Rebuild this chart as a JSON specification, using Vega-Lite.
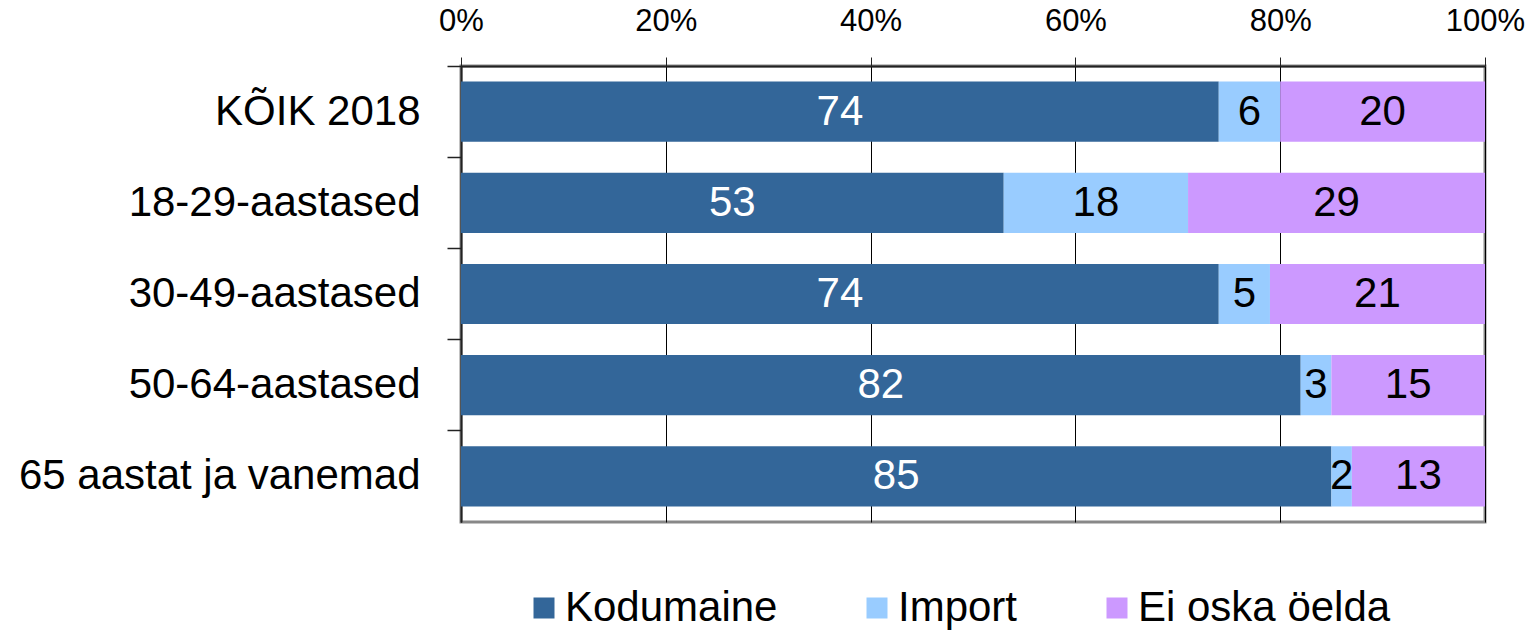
{
  "$schema": "https://vega.github.io/schema/vega-lite/v6.json",
  "autosize": {"type": "none"},
  "width": 1024,
  "height": 456,
  "padding": {"left": 461, "top": 66, "right": 45, "bottom": 109},
  "background": "white",
  "config": {
    "font": "Liberation Sans",
    "view": {"stroke": "#888888", "strokeWidth": 3}
  },
  "data": {
    "values": [
      {"group": "KÕIK 2018", "cat": "Kodumaine", "k": 1, "value": 74},
      {"group": "KÕIK 2018", "cat": "Import", "k": 2, "value": 6},
      {"group": "KÕIK 2018", "cat": "Ei oska öelda", "k": 3, "value": 20},
      {"group": "18-29-aastased", "cat": "Kodumaine", "k": 1, "value": 53},
      {"group": "18-29-aastased", "cat": "Import", "k": 2, "value": 18},
      {"group": "18-29-aastased", "cat": "Ei oska öelda", "k": 3, "value": 29},
      {"group": "30-49-aastased", "cat": "Kodumaine", "k": 1, "value": 74},
      {"group": "30-49-aastased", "cat": "Import", "k": 2, "value": 5},
      {"group": "30-49-aastased", "cat": "Ei oska öelda", "k": 3, "value": 21},
      {"group": "50-64-aastased", "cat": "Kodumaine", "k": 1, "value": 82},
      {"group": "50-64-aastased", "cat": "Import", "k": 2, "value": 3},
      {"group": "50-64-aastased", "cat": "Ei oska öelda", "k": 3, "value": 15},
      {"group": "65 aastat ja vanemad", "cat": "Kodumaine", "k": 1, "value": 85},
      {"group": "65 aastat ja vanemad", "cat": "Import", "k": 2, "value": 2},
      {"group": "65 aastat ja vanemad", "cat": "Ei oska öelda", "k": 3, "value": 13}
    ]
  },
  "encoding": {
    "y": {
      "field": "group",
      "type": "nominal",
      "sort": ["KÕIK 2018", "18-29-aastased", "30-49-aastased", "50-64-aastased", "65 aastat ja vanemad"],
      "scale": {"paddingInner": 0, "paddingOuter": 0},
      "axis": {
        "title": null,
        "orient": "left",
        "labelFontSize": 42,
        "labelLimit": 0,
        "labelColor": "black",
        "labelPadding": 27,
        "tickSize": 14,
        "tickColor": "#222222",
        "tickWidth": 1.5,
        "bandPosition": 0,
        "domainColor": "#222222",
        "domainWidth": 2
      }
    },
    "x": {
      "field": "value",
      "type": "quantitative",
      "stack": "normalize",
      "scale": {"domain": [0, 1]},
      "axis": {
        "title": null,
        "orient": "top",
        "values": [0, 0.2, 0.4, 0.6, 0.8, 1],
        "format": "%",
        "labelFontSize": 31,
        "labelFlush": false,
        "labelBound": false,
        "labelOverlap": false,
        "labelColor": "black",
        "labelPadding": 20,
        "tickSize": 9,
        "tickColor": "#222222",
        "domainColor": "#222222",
        "domainWidth": 2,
        "grid": true,
        "gridColor": "black",
        "gridWidth": 1,
        "gridOpacity": 1
      }
    },
    "order": {"field": "k", "type": "quantitative"}
  },
  "layer": [
    {
      "mark": {"type": "bar", "height": {"band": 0.66}},
      "encoding": {
        "color": {
          "field": "cat",
          "type": "nominal",
          "sort": ["Kodumaine", "Import", "Ei oska öelda"],
          "scale": {"domain": ["Kodumaine", "Import", "Ei oska öelda"], "range": ["#336699", "#99CCFF", "#CC99FF"]},
          "legend": {
            "title": null,
            "orient": "none",
            "direction": "horizontal",
            "legendX": 62,
            "legendY": 521,
            "symbolType": "square",
            "symbolSize": 441,
            "symbolStrokeWidth": 0,
            "labelFontSize": 42,
            "labelLimit": 0,
            "labelColor": "black",
            "labelOffset": 0,
            "columnPadding": 78
          }
        }
      }
    },
    {
      "mark": {"type": "text", "fontSize": 42, "align": "center", "baseline": "middle"},
      "encoding": {
        "x": {"field": "value", "type": "quantitative", "stack": "normalize", "bandPosition": 0.5},
        "text": {"field": "value", "type": "quantitative"},
        "color": {
          "condition": {"test": "datum.cat === 'Kodumaine'", "value": "white"},
          "value": "black"
        }
      }
    }
  ]
}
